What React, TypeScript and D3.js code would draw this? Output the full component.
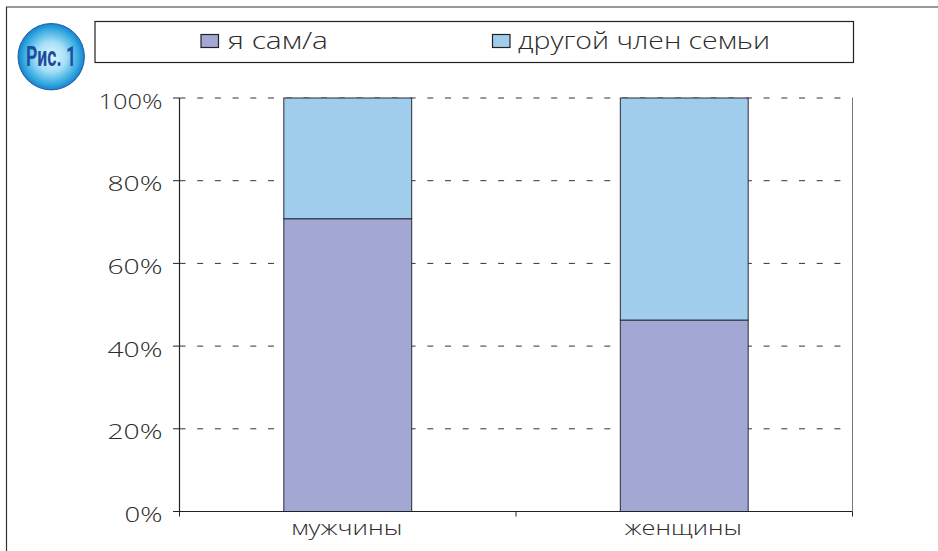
import React from "react";
import * as d3 from "d3";

const categories = ["мужчины", "женщины"];
const seriesNames = ["я сам/а", "другой член семьи"];
const selfValues = [70.8, 46.3];
const otherValues = [29.2, 53.7];
const seriesColors = ["#a3a7d3", "#a1cdec"];
const yTicks = [0, 20, 40, 60, 80, 100];

const W = 938, H = 551;
const plot = { l: 179.5, r: 852.5, t: 98, b: 511.5 };

export default function App() {
  const x = d3.scaleBand<string>().domain(categories).range([plot.l, plot.r]).paddingInner(0.62).paddingOuter(0.31);
  const y = d3.scaleLinear().domain([0, 100]).range([plot.b, plot.t]);
  const step = x.step();
  const stack = d3.stack<number>().keys(["0", "1"]).value((i, k) => (k === "0" ? selfValues[i] : otherValues[i]));
  const layers = stack(categories.map((_, i) => i));
  const font = "'Open Sans', sans-serif";
  const ink = "#2b2b2b";
  return (
    <svg width={W} height={H} viewBox={`0 0 ${W} ${H}`} style={{ position: "fixed", left: 0, top: 0, background: "#fff" }}>
      <defs>
        <radialGradient id="badge" cx="50%" cy="50%" r="50%">
          <stop offset="0%" stopColor="#e6f6fd" />
          <stop offset="45%" stopColor="#a5dff6" />
          <stop offset="85%" stopColor="#2fa6e0" />
          <stop offset="100%" stopColor="#1c7fc8" />
        </radialGradient>
      </defs>
      <path d="M6.5 551V7H938" fill="none" stroke="#333" strokeWidth={1.2} />
      <rect x={95} y={21.5} width={758.5} height={41} fill="#fff" stroke="#222" strokeWidth={1.2} />
      <circle cx={51.2} cy={56.7} r={33.2} fill="url(#badge)" stroke="#1b5fae" strokeWidth={1} />
      <text x={51} y={65.5} textAnchor="middle" fontFamily="'Roboto', sans-serif" fontWeight={700} fontSize={28} fill="#1a4fa0" textLength={50} lengthAdjust="spacingAndGlyphs">Рис. 1</text>

      <rect x={201} y={34.5} width={17.5} height={13} fill={seriesColors[0]} stroke="#222" strokeWidth={1.2} />
      <text x={228} y={49} fontFamily={font} fontSize={24} fontWeight={300} fill={ink} textLength={100} lengthAdjust="spacingAndGlyphs">{seriesNames[0]}</text>
      <rect x={492.5} y={34.5} width={17.5} height={13} fill={seriesColors[1]} stroke="#222" strokeWidth={1.2} />
      <text x={518} y={49} fontFamily={font} fontSize={24} fontWeight={300} fill={ink} textLength={252} lengthAdjust="spacingAndGlyphs">{seriesNames[1]}</text>

      <rect x={plot.l} y={plot.t} width={plot.r - plot.l} height={plot.b - plot.t} fill="#fff" />
      {yTicks.filter(t => t > 0).map(t => (
        <line key={t} x1={plot.l} x2={plot.r} y1={y(t)} y2={y(t)} stroke="#333" strokeWidth={1} strokeDasharray="6 11.7" />
      ))}
      {layers.map((layer, s) => layer.map((d, i) => (
        <rect key={`${s}-${i}`} x={x(categories[i])!} width={x.bandwidth()} y={y(d[1])} height={y(d[0]) - y(d[1])}
          fill={seriesColors[s]} stroke="#2a2a3a" strokeWidth={1} />
      )))}
      <path d={`M${plot.l} ${plot.t}V${plot.b}H${plot.r}`} fill="none" stroke="#222" strokeWidth={1.2} />
      <line x1={plot.r} x2={plot.r} y1={plot.t} y2={plot.b} stroke="#555" strokeWidth={0.8} />
      {yTicks.map(t => (
        <g key={t}>
          <line x1={plot.l - 6.5} x2={plot.l} y1={y(t)} y2={y(t)} stroke="#222" />
          <text x={162.5} y={y(t) + 10.5} textAnchor="end" fontFamily={font} fontSize={21} fontWeight={300} fill={ink} textLength={t === 100 ? 64 : t === 0 ? 38 : 55} lengthAdjust="spacingAndGlyphs">{t}%</text>
        </g>
      ))}
      {[0, 1, 2].map(i => (
        <line key={i} x1={plot.l + i * step} x2={plot.l + i * step} y1={plot.b} y2={plot.b + 5} stroke="#222" />
      ))}
      {categories.map((c, i) => (
        <text key={c} x={x(c)! + x.bandwidth() / 2 - 1} y={535} textAnchor="middle" fontFamily={font} fontSize={21} fontWeight={300} fill={ink} textLength={i === 0 ? 111 : 117} lengthAdjust="spacingAndGlyphs">{c}</text>
      ))}
    </svg>
  );
}
